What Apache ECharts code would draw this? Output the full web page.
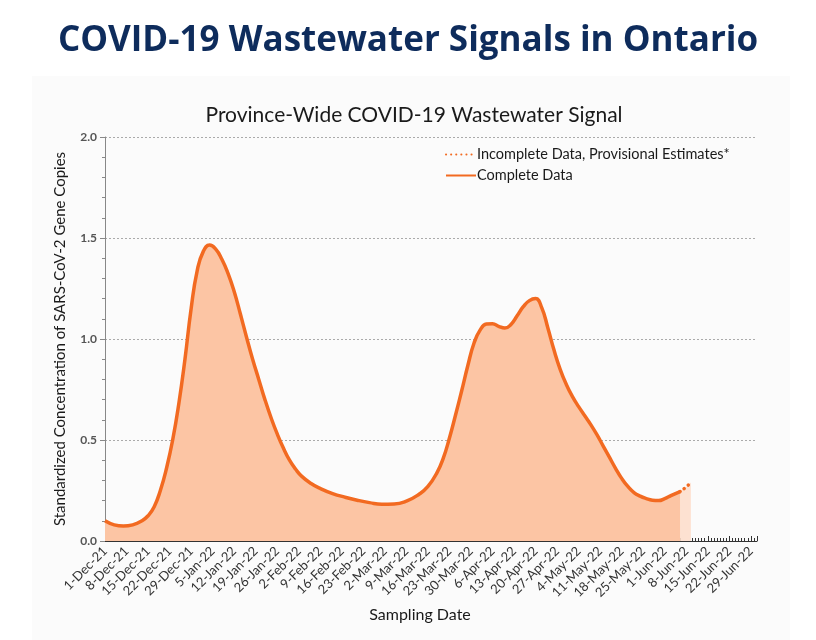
<!DOCTYPE html>
<html>
<head>
<meta charset="utf-8">
<script src="https://cdn.jsdelivr.net/npm/echarts@6/dist/echarts.min.js"></script>
<style>html,body{margin:0;padding:0;background:#fff;}#c{width:816px;height:640px;}</style>
</head>
<body>
<div id="c"></div>
<script>
// Days since 1-Dec-21
const completeDays   = [0, 3, 6, 9, 12, 14, 16, 18, 20, 22, 24, 26, 28, 30, 32, 34, 36, 38, 40, 42, 44, 46, 48, 50, 52, 54, 56, 58, 60, 62, 64, 67, 70, 74, 78, 82, 86, 90, 94, 98, 102, 105, 108, 110, 112, 114, 116, 118, 120, 122, 124, 126, 128, 130, 132, 134, 136, 138, 140, 142, 144, 146, 148, 150, 152, 154, 156, 158, 160, 162, 164, 166, 168, 170, 172, 174, 176, 178, 180, 182, 184, 187];
const completeValues = [0.100, 0.080, 0.074, 0.080, 0.100, 0.125, 0.17, 0.25, 0.36, 0.50, 0.68, 0.90, 1.15, 1.34, 1.435, 1.465, 1.445, 1.395, 1.325, 1.235, 1.125, 1.01, 0.90, 0.80, 0.70, 0.61, 0.53, 0.46, 0.40, 0.355, 0.32, 0.285, 0.26, 0.235, 0.217, 0.202, 0.19, 0.182, 0.183, 0.197, 0.23, 0.27, 0.34, 0.41, 0.51, 0.625, 0.745, 0.87, 0.98, 1.045, 1.074, 1.076, 1.063, 1.054, 1.072, 1.115, 1.16, 1.19, 1.20, 1.155, 1.055, 0.945, 0.85, 0.775, 0.715, 0.665, 0.62, 0.575, 0.525, 0.47, 0.415, 0.36, 0.31, 0.27, 0.24, 0.222, 0.21, 0.202, 0.20, 0.21, 0.225, 0.245];
const provisionalDays   = [187, 189, 190.5];
const provisionalValues = [0.245, 0.268, 0.29];
const tickLabels = ['1-Dec-21','8-Dec-21','15-Dec-21','22-Dec-21','29-Dec-21','5-Jan-22','12-Jan-22','19-Jan-22','26-Jan-22','2-Feb-22','9-Feb-22','16-Feb-22','23-Feb-22','2-Mar-22','9-Mar-22','16-Mar-22','23-Mar-22','30-Mar-22','6-Apr-22','13-Apr-22','20-Apr-22','27-Apr-22','4-May-22','11-May-22','18-May-22','25-May-22','1-Jun-22','8-Jun-22','15-Jun-22','22-Jun-22','29-Jun-22'];

const FONT = 'Lato, "Open Sans", sans-serif';
const chart = echarts.init(document.getElementById('c'));
chart.setOption({
  animation: false,
  backgroundColor: '#ffffff',
  graphic: [{
    type: 'rect', z: -10, silent: true,
    shape: {x: 32, y: 76, width: 758, height: 570},
    style: {fill: '#fbfbfb'}
  }],
  title: [{
    text: 'COVID-19 Wastewater Signals in Ontario',
    left: 'center', top: 19,
    textStyle: {fontFamily: '"Open Sans", sans-serif', fontWeight: 'bold', fontSize: 35, color: '#0e2c5c'}
  }, {
    text: 'Province-Wide COVID-19 Wastewater Signal',
    left: 409, textAlign: 'center', top: 100,
    textStyle: {fontFamily: FONT, fontWeight: 'normal', fontSize: 21, color: '#1a1a1a'}
  }],
  legend: {
    orient: 'vertical', left: 440, top: 142, itemGap: 6,
    itemWidth: 30, itemHeight: 12,
    itemStyle: {opacity: 0},
    textStyle: {fontFamily: FONT, fontSize: 14.5, color: '#1a1a1a', padding: [0,0,0,-4]},
    data: ['Incomplete Data, Provisional Estimates*', 'Complete Data']
  },
  grid: {left: 105, right: 59, top: 137, bottom: 99},
  xAxis: {
    type: 'value', min: 0, max: 212, interval: 7,
    name: 'Sampling Date', nameLocation: 'middle', nameGap: 60,
    nameTextStyle: {fontFamily: FONT, fontSize: 16, color: '#1a1a1a', padding: [0, 22, 0, 0]},
    axisLine: {lineStyle: {color: '#333', width: 1}},
    axisTick: {inside: true, length: 5, lineStyle: {color: '#333'}},
    minorTick: {show: true, splitNumber: 7, length: 3, lineStyle: {color: '#333'}},
    splitLine: {show: false},
    axisLabel: {
      rotate: 45, fontFamily: FONT, fontSize: 13, color: '#333', margin: 8,
      formatter: v => { const i = Math.round(v / 7); return (v % 7 === 0 && i < tickLabels.length) ? tickLabels[i] : ''; }
    }
  },
  yAxis: {
    type: 'value', min: 0, max: 2, interval: 0.5,
    name: 'Standardized Concentration of SARS-CoV-2 Gene Copies',
    nameLocation: 'middle', nameGap: 37,
    nameTextStyle: {fontFamily: FONT, fontSize: 15, color: '#1a1a1a'},
    axisLine: {show: true, lineStyle: {color: '#888'}},
    axisTick: {show: true, length: 5, lineStyle: {color: '#888'}},
    minorTick: {show: true, splitNumber: 5, length: 3, lineStyle: {color: '#888'}},
    splitLine: {show: true, lineStyle: {type: [2, 2], color: '#aaa'}},
    axisLabel: {fontFamily: FONT, fontSize: 12, fontWeight: 'bold', color: '#555', formatter: v => v.toFixed(1)}
  },
  series: [{
    name: 'Incomplete Data, Provisional Estimates*',
    type: 'line', smooth: true, symbol: 'none',
    data: provisionalDays.map((d, i) => [d, provisionalValues[i]]),
    lineStyle: {color: '#f26a21', width: 3.5, type: [0.1, 5], cap: 'round'},
    itemStyle: {color: '#f26a21'},
    areaStyle: {color: '#fde1d1', opacity: 1},
    z: 2
  }, {
    name: 'Complete Data',
    type: 'line', smooth: 0.5, symbol: 'none',
    data: completeDays.map((d, i) => [d, completeValues[i]]),
    lineStyle: {color: '#f26a21', width: 3.5},
    itemStyle: {color: '#f26a21'},
    areaStyle: {color: '#fcc5a4', opacity: 1},
    z: 3
  }]
});
</script>
</body>
</html>
